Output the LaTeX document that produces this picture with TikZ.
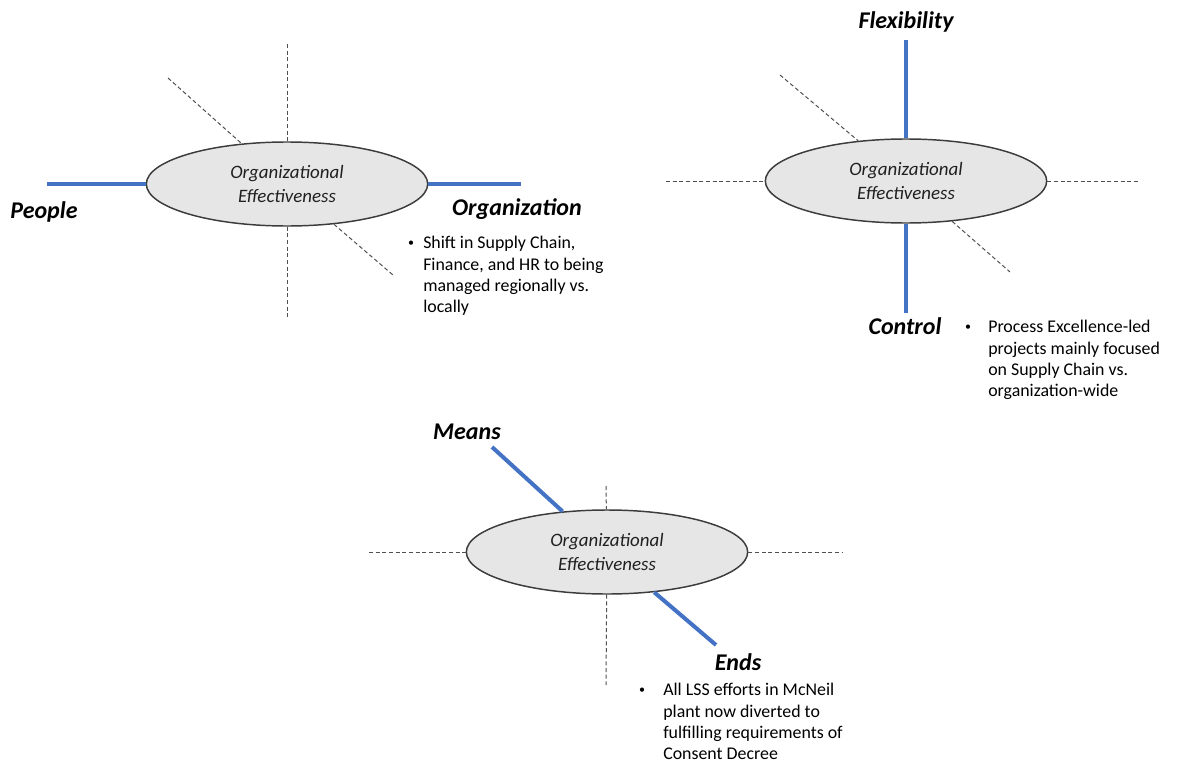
\documentclass[tikz,border=0pt]{standalone}
\usepackage{fontspec}
\setmainfont{Carlito}
\usetikzlibrary{shapes.geometric}
\definecolor{axisblue}{RGB}{68,114,196}
\definecolor{ovalfill}{RGB}{231,230,230}
\definecolor{ovaledge}{RGB}{60,60,60}
\definecolor{dashgray}{RGB}{80,80,80}
\definecolor{ovaltext}{RGB}{32,32,32}
\begin{document}
\begin{tikzpicture}[x=0.75pt,y=-0.75pt,
  oval/.style={ellipse, draw=ovaledge, line width=1.1pt, fill=ovalfill,
    minimum width=211pt, minimum height=63pt, inner sep=0pt, align=center,
    text=ovaltext, font=\fontsize{14.2}{17.4}\selectfont\itshape},
  strong/.style={draw=axisblue, line width=3pt},
  weak/.style={draw=dashgray, line width=0.75pt, dash pattern=on 3pt off 2pt},
  axislabel/.style={font=\fontsize{18}{22}\selectfont\bfseries\itshape, inner sep=0pt},
  bulletmark/.style={font=\fontsize{9}{10}\selectfont, inner sep=0pt},
  note/.style={font=\fontsize{13.4}{16}\selectfont, align=left, inner sep=0pt, anchor=north west}]
\useasboundingbox[fill=white] (0,0) rectangle (1194,774);

% ---- People / Organization ----
\node[oval] (e1) at (287,184) {Organizational\\Effectiveness};
\coordinate (e1up) at (287,44);
\coordinate (e1dn) at (287,318);
\coordinate (e1nw) at (168,78);
\coordinate (e1se) at (393,275);
\coordinate (e1w) at (47,184);
\coordinate (e1e) at (521,184);
\draw[weak] (e1up) -- (e1);
\draw[weak] (e1) -- (e1dn);
\draw[weak] (e1nw) -- (e1);
\draw[weak] (e1) -- (e1se);
\draw[strong] (e1w) -- (e1);
\draw[strong] (e1) -- (e1e);
\node[axislabel] (people) at (44,212) {People};
\node[axislabel] (organization) at (517,209) {Organization};
\node[bulletmark] (b1) at (411,244) {\textbullet};
\node[note] (t1) at (423,236) {Shift in Supply Chain,\\Finance, and HR to being\\managed regionally vs.\\locally};

% ---- Flexibility / Control ----
\node[oval] (e2) at (906,181) {Organizational\\Effectiveness};
\coordinate (e2up) at (906,40);
\coordinate (e2dn) at (906,313);
\coordinate (e2w) at (666,181);
\coordinate (e2e) at (1140,181);
\coordinate (e2nw) at (780,75);
\coordinate (e2se) at (1010,272);
\draw[weak] (e2w) -- (e2);
\draw[weak] (e2) -- (e2e);
\draw[weak] (e2nw) -- (e2);
\draw[weak] (e2) -- (e2se);
\draw[strong] (e2up) -- (e2);
\draw[strong] (e2) -- (e2dn);
\node[axislabel] (flexibility) at (906,22) {Flexibility};
\node[axislabel] (control) at (905,326) {Control};
\node[bulletmark] (b2) at (968,328) {\textbullet};
\node[note] (t2) at (988,320) {Process Excellence-led\\projects mainly focused\\on Supply Chain vs.\\organization-wide};

% ---- Means / Ends ----
\node[oval] (e3) at (607,552) {Organizational\\Effectiveness};
\coordinate (e3w) at (369,552);
\coordinate (e3e) at (843,552);
\coordinate (e3up) at (606,486);
\coordinate (e3dn) at (606,685);
\coordinate (e3nw) at (492,447);
\coordinate (e3se) at (716,645);
\draw[weak] (e3w) -- (e3);
\draw[weak] (e3) -- (e3e);
\draw[weak] (e3up) -- (e3);
\draw[weak] (e3) -- (e3dn);
\draw[strong] (e3nw) -- (e3);
\draw[strong] (e3) -- (e3se);
\node[axislabel] (means) at (467,432) {Means};
\node[axislabel] (ends) at (738,662) {Ends};
\node[bulletmark] (b3) at (642,691) {\textbullet};
\node[note] (t3) at (663,683) {All LSS efforts in McNeil\\plant now diverted to\\fulfilling requirements of\\Consent Decree};
\end{tikzpicture}
\end{document}
